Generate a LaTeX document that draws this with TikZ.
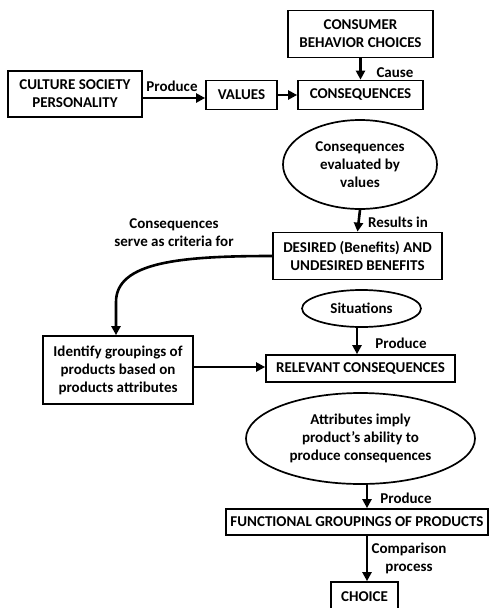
\documentclass[tikz,border=0pt]{standalone}
\usepackage{fontspec}
\setmainfont{Carlito}
\usetikzlibrary{arrows.meta,shapes.geometric}
\begin{document}
\begin{tikzpicture}[x=1pt,y=-1pt,
  font=\fontsize{15}{18}\selectfont\bfseries,
  box/.style={draw,line width=1.7pt,inner sep=0pt,align=center},
  oval/.style={draw,ellipse,line width=1.7pt,inner sep=0pt,align=center},
  arr/.style={line width=2.6pt,-{Triangle[length=9pt,width=9pt]}},
  lbl/.style={align=center,inner sep=0pt}]
\useasboundingbox[fill=white] (0,0) rectangle (492,608);
% nodes
\node[box,minimum width=145pt,minimum height=47pt] (cbc) at (360.5,34) {CONSUMER\\BEHAVIOR CHOICES};
\node[box,minimum width=134pt,minimum height=46pt] (culture) at (75,94) {CULTURE SOCIETY\\PERSONALITY};
\node[box,minimum width=71pt,minimum height=29pt] (values) at (241.5,95) {VALUES};
\node[box,minimum width=125pt,minimum height=29pt] (cons) at (360.5,95) {CONSEQUENCES};
\node[oval,minimum width=154pt,minimum height=89pt] (ell1) at (360,164.5) {Consequences\\evaluated by\\values};
\node[box,minimum width=169pt,minimum height=47pt] (desired) at (357.5,256) {DESIRED (Benefits) AND\\UNDESIRED BENEFITS};
\node[oval,minimum width=119pt,minimum height=37pt] (situ) at (361.5,308.5) {Situations};
\node[box,minimum width=150pt,minimum height=68pt] (identify) at (118,370) {Identify groupings of\\products based on\\products attributes};
\node[box,minimum width=189pt,minimum height=27pt] (relevant) at (360.5,368.5) {RELEVANT CONSEQUENCES};
\node[oval,minimum width=229pt,minimum height=91pt] (ell2) at (360.5,438.5) {Attributes imply\\product’s ability to\\produce consequences};
\node[box,minimum width=262pt,minimum height=26pt] (functional) at (357,522) {FUNCTIONAL GROUPINGS OF PRODUCTS};
\node[box,minimum width=67pt,minimum height=30pt] (choice) at (364.5,597) {CHOICE};
% labels
\node[lbl] (l1) at (172,86) {Produce};
\node[lbl] (l2) at (395,72.5) {Cause};
\node[lbl] (l3) at (398,222) {Results in};
\node[lbl] (l4) at (174,233) {Consequences\\serve as criteria for};
\node[lbl] (l5) at (401,343) {Produce};
\node[lbl] (l6) at (406,498) {Produce};
\node[lbl] (l7) at (409,558.5) {Comparison\\process};
% connectors
\coordinate (ax) at (367,0);
\draw[arr] (culture.east |- 0,98) -- (values.west |- 0,98);
\draw[arr] (values.east) -- (cons.west);
\draw[arr] (cbc.south) -- (cons.north);
\draw[arr] (ell1.south) -- (desired.north);
\draw[arr] (desired.west) .. controls (180,256) and (116,262) .. (116,302) -- (identify.north -| 116,0);
\draw[arr] (situ.south -| 357,0) -- (relevant.north -| 357,0);
\draw[arr] (identify.east |- 0,367) -- (relevant.west |- 0,367);
\draw[arr] (ell2.south -| ax) -- (functional.north -| ax);
\draw[arr] (functional.south -| ax) -- (choice.north -| ax);
\end{tikzpicture}
\end{document}
